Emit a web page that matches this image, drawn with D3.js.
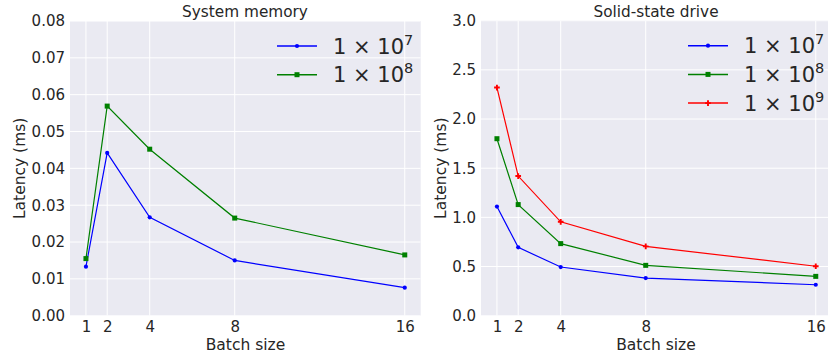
<!DOCTYPE html>
<html><head><meta charset="utf-8">
<script src="https://cdn.jsdelivr.net/npm/d3@7"></script>
<style>body{margin:0;background:#fff}text{font-family:"DejaVu Sans",sans-serif;fill:#262626}</style>
</head><body><svg id="c" width="828" height="358"></svg>
<script>
const batchSizes = [1, 2, 4, 8, 16];
const memLabels = ["7", "8"];
const mem1e7 = [0.0133, 0.0442, 0.0267, 0.0150, 0.0076];
const mem1e8 = [0.0155, 0.0569, 0.0452, 0.0265, 0.0165];
const ssd1e7 = [1.11, 0.695, 0.495, 0.383, 0.315];
const ssd1e8 = [1.80, 1.13, 0.733, 0.512, 0.400];
const ssd1e9 = [2.32, 1.42, 0.955, 0.705, 0.503];
const memTicks = [0, 0.01, 0.02, 0.03, 0.04, 0.05, 0.06, 0.07, 0.08];
const ssdTicks = [0, 0.5, 1.0, 1.5, 2.0, 2.5, 3.0];

const svg = d3.select("#c");
const styles = {
  "7": {color: "#0000ff", marker: "circle"},
  "8": {color: "#008000", marker: "square"},
  "9": {color: "#ff0000", marker: "plus"}
};

function drawMarker(g, type, x, y, color) {
  if (type === "circle") g.append("circle").attr("cx", x).attr("cy", y).attr("r", 2.1).attr("fill", color);
  else if (type === "square") g.append("rect").attr("x", x - 2.5).attr("y", y - 2.5).attr("width", 5).attr("height", 5).attr("fill", color);
  else g.append("path").attr("transform", `translate(${x},${y})`).attr("d", d3.symbol(d3.symbolCross, 18)()).attr("fill", color);
}

function panel(opt) {
  const {left, right, top, bottom, yMax, yTicks, yFmt, title, series, legendX, legendY} = opt;
  const g = svg.append("g");
  const x = d3.scaleLinear().domain([0.25, 16.75]).range([left, right]);
  const y = d3.scaleLinear().domain([0, yMax]).range([bottom, top]);
  const clipId = "clip" + Math.round(left);
  svg.append("clipPath").attr("id", clipId).append("rect").attr("x", left).attr("y", top).attr("width", right - left).attr("height", bottom - top);
  g.append("rect").attr("x", left).attr("y", top).attr("width", right - left).attr("height", bottom - top).attr("fill", "#eaeaf2");
  const grid = g.append("g").attr("clip-path", `url(#${clipId})`);
  grid.selectAll(".gx").data(batchSizes).join("line").attr("x1", d => x(d)).attr("x2", d => x(d)).attr("y1", top).attr("y2", bottom).attr("stroke", "#fff").attr("stroke-width", 1);
  grid.selectAll(".gy").data(yTicks).join("line").attr("x1", left).attr("x2", right).attr("y1", d => y(d)).attr("y2", d => y(d)).attr("stroke", "#fff").attr("stroke-width", 1);

  const xa = g.append("g").attr("transform", `translate(0,${bottom})`).call(d3.axisBottom(x).tickValues(batchSizes).tickSize(0).tickPadding(6));
  xa.select(".domain").remove();
  xa.selectAll("text").attr("font-size", 15).style("font-family", "DejaVu Sans").attr("fill", "#262626");
  const ya = g.append("g").attr("transform", `translate(${left},0)`).call(d3.axisLeft(y).tickValues(yTicks).tickFormat(yFmt).tickSize(0).tickPadding(5));
  ya.select(".domain").remove();
  ya.selectAll("text").attr("font-size", 15).style("font-family", "DejaVu Sans").attr("fill", "#262626");

  g.append("text").attr("x", opt.xlabelX).attr("y", 345).attr("text-anchor", "middle").attr("dominant-baseline", "middle").attr("font-size", 15.5).text("Batch size");
  g.append("text").attr("transform", `translate(${opt.ylabelX},${(top + bottom) / 2}) rotate(-90)`).attr("text-anchor", "middle").attr("dominant-baseline", "middle").attr("font-size", 15.5).text("Latency (ms)");
  g.append("text").attr("x", opt.titleX).attr("y", 12).attr("text-anchor", "middle").attr("dominant-baseline", "middle").attr("font-size", 15.3).text(title);

  const line = d3.line().x((d, i) => x(batchSizes[i])).y(d => y(d));
  const plot = g.append("g").attr("clip-path", `url(#${clipId})`);
  series.forEach(s => {
    const st = styles[s.key];
    plot.append("path").attr("d", line(s.values)).attr("fill", "none").attr("stroke", st.color).attr("stroke-width", 1.2);
    s.values.forEach((v, i) => drawMarker(plot, st.marker, x(batchSizes[i]), y(v), st.color));
  });

  series.forEach((s, i) => {
    const st = styles[s.key];
    const ly = legendY + i * 28.7;
    g.append("line").attr("x1", legendX).attr("x2", legendX + 40).attr("y1", ly).attr("y2", ly).attr("stroke", st.color).attr("stroke-width", 1.5);
    drawMarker(g, st.marker, legendX + 20, ly, st.color);
    const t = g.append("text").attr("x", legendX + 56).attr("y", ly + 7.5).attr("font-size", 21);
    t.append("tspan").text("1 × 10");
    t.append("tspan").attr("dy", -9).attr("font-size", 14.5).text(s.key);
  });
}

panel({left: 70, right: 420.7, top: 21, bottom: 315.7, yMax: 0.08, yTicks: memTicks, yFmt: d3.format(".2f"),
  title: "System memory", titleX: 245, ylabelX: 20, xlabelX: 245.5,
  series: [{key: "7", values: mem1e7}, {key: "8", values: mem1e8}], legendX: 277, legendY: 46});
panel({left: 481, right: 831.7, top: 20.7, bottom: 315.7, yMax: 3.0, yTicks: ssdTicks, yFmt: d3.format(".1f"),
  title: "Solid-state drive", titleX: 656, ylabelX: 441, xlabelX: 656,
  series: [{key: "7", values: ssd1e7}, {key: "8", values: ssd1e8}, {key: "9", values: ssd1e9}], legendX: 688, legendY: 45.7});
</script></body></html>
